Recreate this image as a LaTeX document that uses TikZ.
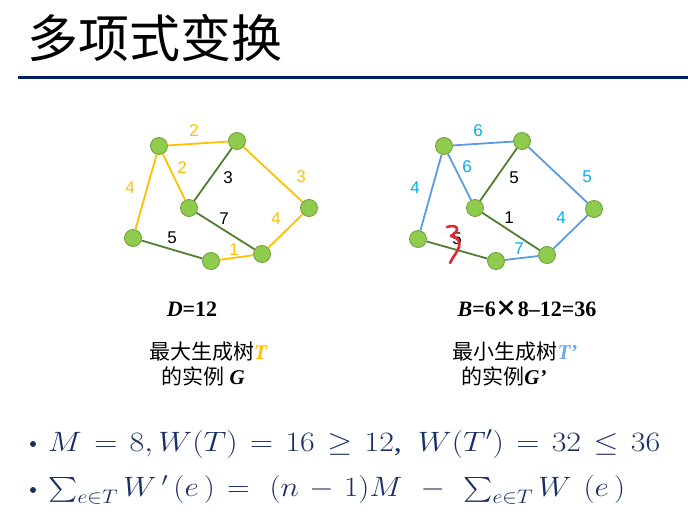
\RequirePackage{fix-cm}
\documentclass[tikz,border=0pt]{standalone}
\usepackage{exscale}
\usepackage{fontspec}
\setmainfont{Liberation Serif}
\setsansfont{Liberation Sans}
\newfontfamily\cjk{Noto Sans CJK SC}
\definecolor{tyellow}{HTML}{FFC000}
\definecolor{tblue}{HTML}{5B9BE0}
\definecolor{lblue}{HTML}{00B0F0}
\definecolor{tgreen}{HTML}{507E32}
\definecolor{nfill}{HTML}{8FCB4C}
\definecolor{nedge}{HTML}{6E9F3A}
\definecolor{navy}{HTML}{002060}
\definecolor{fnavy}{HTML}{1A2F66}
\definecolor{scribble}{HTML}{E3262F}
\definecolor{ttblue}{HTML}{6FA8E8}
\tikzset{
  vtx/.style={circle, fill=nfill, draw=nedge, line width=0.8pt, minimum size=17pt, inner sep=0pt},
  yedge/.style={draw=tyellow, line width=1.8pt},
  bedge/.style={draw=tblue, line width=1.8pt},
  gedge/.style={draw=tgreen, line width=1.8pt},
  elab/.style={font=\sffamily\fontsize{17}{17}\selectfont, inner sep=0pt},
  ylab/.style={elab, text=tyellow},
  blab/.style={elab, text=lblue},
  klab/.style={elab, text=black},
  caption/.style={inner sep=0pt, font=\fontsize{21}{25}\selectfont},
  formula/.style={inner sep=0pt, anchor=west, text=fnavy, font=\fontsize{28}{32}\selectfont},
  bullet/.style={circle, fill=fnavy, inner sep=0pt, minimum size=6pt}
}
\begin{document}
\begin{tikzpicture}[x=1pt,y=-1pt]
\useasboundingbox (0,0) rectangle (688,526);
% title
\node[anchor=west, inner sep=0pt, font=\cjk\fontsize{51}{56}\selectfont] (title) at (27,38) {多项式变换};
\coordinate (rl) at (18,78);
\coordinate (rr) at (688,78);
\draw[navy, line width=3pt] (rl) -- (rr);

% left graph
\node[vtx] (a) at (159,146) {};
\node[vtx] (b) at (237,141) {};
\node[vtx] (c) at (189,208) {};
\node[vtx] (d) at (309,208) {};
\node[vtx] (e) at (133,238) {};
\node[vtx] (f) at (211,261) {};
\node[vtx] (g) at (262,254) {};
\draw[yedge] (a) -- (b);
\draw[yedge] (a) -- (c);
\draw[yedge] (a) -- (e);
\draw[gedge] (b) -- (c);
\draw[yedge] (b) -- (d);
\draw[gedge] (c) -- (g);
\draw[yedge] (d) -- (g);
\draw[gedge] (e) -- (f);
\draw[yedge] (f) -- (g);
\node[ylab] (l1) at (194,131) {2};
\node[ylab] (l2) at (182,168) {2};
\node[ylab] (l3) at (130,188) {4};
\node[klab] (l4) at (228,178) {3};
\node[ylab] (l5) at (301,177) {3};
\node[klab] (l6) at (224,219) {7};
\node[ylab] (l7) at (276,219) {4};
\node[klab] (l8) at (172,238) {5};
\node[ylab] (l9) at (234,250) {1};

% right graph
\node[vtx] (ra) at (444,146) {};
\node[vtx] (rb) at (522,141) {};
\node[vtx] (rc) at (475,208) {};
\node[vtx] (rd) at (594,209) {};
\node[vtx] (re) at (418,239) {};
\node[vtx] (rf) at (496,261) {};
\node[vtx] (rg) at (547,255) {};
\draw[bedge] (ra) -- (rb);
\draw[bedge] (ra) -- (rc);
\draw[bedge] (ra) -- (re);
\draw[gedge] (rb) -- (rc);
\draw[bedge] (rb) -- (rd);
\draw[gedge] (rc) -- (rg);
\draw[bedge] (rd) -- (rg);
\draw[gedge] (re) -- (rf);
\draw[bedge] (rf) -- (rg);
\node[blab] (r1) at (478,131) {6};
\node[blab] (r2) at (467,167) {6};
\node[blab] (r3) at (415,188) {4};
\node[klab] (r4) at (514,178) {5};
\node[blab] (r5) at (587,177) {5};
\node[klab] (r6) at (509,218) {1};
\node[blab] (r7) at (561,218) {4};
\node[klab] (r8) at (457,239) {5};
\node[blab] (r9) at (519,249) {7};
\draw[scribble, line width=2.6pt, line cap=round, line join=round]
  (447,227) .. controls (452,225) and (458,226) .. (457,230)
  .. controls (456,233) and (452,235) .. (451,236)
  .. controls (457,237) and (461,241) .. (459,247)
  .. controls (457,253) and (452,258) .. (450,263);

% captions
\node[caption, font=\fontsize{22}{26}\selectfont] (dcap) at (192,309) {\textbf{\textit{D}=12}};
\node[caption, font=\fontsize{22}{26}\selectfont] (bcap) at (527,309) {\textbf{\textit{B}=6{\cjk\bfseries ×}8–12=36}};
\node[caption] (lc1) at (208,352) {{\cjk 最大生成树}\textbf{\textit{\color{tyellow}T}}};
\node[caption] (lc2) at (203,376) {{\cjk 的实例} \textbf{\textit{G}}};
\node[caption] (rc1) at (515,352) {{\cjk 最小生成树}\textbf{\textit{\color{ttblue}T’}}};
\node[caption] (rc2) at (504,376) {{\cjk 的实例}\textbf{\textit{G’}}};

% formulas
\node[bullet] (b1) at (33,444) {};
\node[bullet] (b2) at (33,490) {};
\node[formula] (f1) at (48,444) {\resizebox{612pt}{\height}{$\thickmuskip=7mu M=8,W(T)=16\geq 12$,\ \ $\thickmuskip=7mu W(T')=32\leq 36$}};
\node[formula] (f2) at (48,490) {\resizebox{577pt}{\height}{$\thickmuskip=7mu\medmuskip=6mu\textstyle\sum_{e\in T}W\,'\,(e\,)=\ (n-1)M\ -\ \sum_{e\in T}W\;(e\,)$}};
\end{tikzpicture}
\end{document}
